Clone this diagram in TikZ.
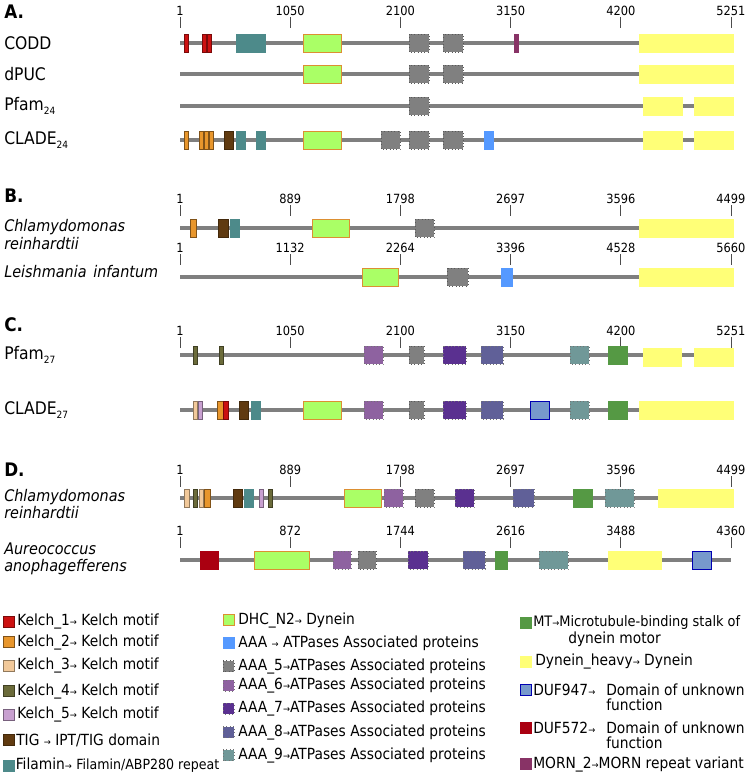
\documentclass[tikz,border=0pt]{standalone}
\usepackage{fontspec}
\setmainfont{DejaVu Sans}[FakeStretch=0.9]

\definecolor{chaingrey}{HTML}{7F7F7F}
\definecolor{cKone}{HTML}{CC1111}
\definecolor{cKtwo}{HTML}{E8962C}
\definecolor{cKthree}{HTML}{F2C99A}
\definecolor{cKfour}{HTML}{6B6B3A}
\definecolor{cKfive}{HTML}{C8A0D0}
\definecolor{cTig}{HTML}{603A10}
\definecolor{cFilamin}{HTML}{4D8A8A}
\definecolor{cDhc}{HTML}{AAFF66}
\definecolor{cAaa}{HTML}{5599FF}
\definecolor{cAfive}{HTML}{808080}
\definecolor{cAsix}{HTML}{8E62A0}
\definecolor{cAseven}{HTML}{5A3090}
\definecolor{cAeight}{HTML}{606098}
\definecolor{cAnine}{HTML}{709898}
\definecolor{cMt}{HTML}{559944}
\definecolor{cHeavy}{HTML}{FFFF77}
\definecolor{cDufA}{HTML}{7799CC}
\definecolor{cDufB}{HTML}{AA0011}
\definecolor{cMorn}{HTML}{883366}

\tikzset{
  chain/.style={draw=chaingrey, line width=2.3pt},
  ticker/.style={draw=black!70, line width=0.6pt},
  numlab/.style={font=\fontsize{9.5}{9.5}\selectfont, inner sep=0pt},
  rowlab/.style={font=\fontsize{13}{13}\selectfont, anchor=west, inner sep=0pt},
  spclab/.style={font=\fontsize{12}{12}\selectfont\itshape, anchor=west, inner sep=0pt},
  panlab/.style={font=\fontsize{14}{14}\selectfont\bfseries, anchor=west, inner sep=0pt},
  leglab/.style={font=\fontsize{11.5}{11.5}\selectfont, anchor=west, inner sep=0pt},
  kone/.style={fill=cKone, draw=cKone!60!black, line width=0.5pt},
  ktwo/.style={fill=cKtwo, draw=cKtwo!55!black, line width=0.5pt},
  kthree/.style={fill=cKthree, draw=cKthree!60!black, line width=0.5pt},
  kfour/.style={fill=cKfour, draw=cKfour!60!black, line width=0.5pt},
  kfive/.style={fill=cKfive, draw=cKfive!60!black, line width=0.5pt},
  tig/.style={fill=cTig, draw=cTig!70!black, line width=0.5pt},
  filamin/.style={fill=cFilamin, draw=cFilamin, line width=0.5pt},
  dhc/.style={fill=cDhc, draw=cKtwo!70!brown, line width=0.6pt},
  aaa/.style={fill=cAaa, draw=cAaa, line width=0.5pt},
  afive/.style={fill=cAfive, draw=black!65, dotted, line width=0.5pt},
  asix/.style={fill=cAsix, draw=black!55, dotted, line width=0.5pt},
  aseven/.style={fill=cAseven, draw=black!55, dotted, line width=0.5pt},
  aeight/.style={fill=cAeight, draw=black!55, dotted, line width=0.5pt},
  anine/.style={fill=cAnine, draw=black!55, dotted, line width=0.5pt},
  mt/.style={fill=cMt, draw=cMt, line width=0.5pt},
  heavy/.style={fill=cHeavy, draw=cHeavy, line width=0.5pt},
  dufA/.style={fill=cDufA, draw=blue!70!black, line width=0.7pt},
  dufB/.style={fill=cDufB, draw=cDufB, line width=0.5pt},
  morn/.style={fill=cMorn, draw=cMorn, line width=0.5pt}
}

% one domain box: style, from x, to x, row y
\newcommand{\dbox}[4]{\filldraw[#1] (#2,#4-9) rectangle (#3,#4+9);}
% legend square: style, left x, centre y
\newcommand{\legsq}[3]{\filldraw[#1] (#2,#3-5.5) rectangle (#2+11,#3+5.5);}
% position ruler: name, y of numbers, labels
\newcommand{\ruler}[3]{%
  \foreach \lab [count=\k from 0] in {#3}{%
    \draw[ticker] (180+\k*110.2,#2+6) -- (180+\k*110.2,#2+17);
    \node[numlab] (#1\k) at (180+\k*110.2,#2) {\lab};
  }}
\newcommand{\arr}{{\fontsize{7}{7}\selectfont →}}
\newcommand{\lowidx}[1]{\raisebox{-3pt}{\fontsize{7.5}{7.5}\selectfont #1}}

\begin{document}
\begin{tikzpicture}[x=0.75pt,y=-0.75pt]
\useasboundingbox (0,0) rectangle (747,776);

% A.
\node[panlab] (pA) at (4,12) {A.};
\ruler{a}{11}{1,1050,2100,3150,4200,5251}
\node[rowlab] (codd) at (4,43) {CODD};
\node[rowlab] (dpuc) at (4,74) {dPUC};
\node[rowlab] (pfamA) at (4,106) {Pfam\lowidx{24}};
\node[rowlab] (cladeA) at (4,140) {CLADE\lowidx{24}};
\foreach \y in {43,74,106,140}
  \draw[chain] (180,\y) -- (731,\y);

\dbox{kone}{184}{188}{43} \dbox{kone}{202}{206}{43} \dbox{kone}{207}{211}{43}
\dbox{filamin}{236}{265}{43} \dbox{dhc}{303}{341}{43}
\dbox{afive}{409}{429}{43} \dbox{afive}{443}{463}{43}
\dbox{morn}{514}{518}{43} \dbox{heavy}{639}{733}{43}

\dbox{dhc}{303}{341}{74} \dbox{afive}{409}{429}{74} \dbox{afive}{443}{463}{74}
\dbox{heavy}{639}{733}{74}

\dbox{afive}{409}{429}{106} \dbox{heavy}{643}{682}{106} \dbox{heavy}{694}{733}{106}

\dbox{ktwo}{184}{188}{140} \dbox{ktwo}{199}{203}{140} \dbox{ktwo}{204}{208}{140}
\dbox{ktwo}{209}{213}{140} \dbox{tig}{224}{233}{140}
\dbox{filamin}{236}{245}{140} \dbox{filamin}{256}{265}{140}
\dbox{dhc}{303}{341}{140} \dbox{afive}{381}{400}{140}
\dbox{afive}{409}{429}{140} \dbox{afive}{443}{463}{140}
\dbox{aaa}{484}{493}{140} \dbox{heavy}{643}{682}{140} \dbox{heavy}{694}{733}{140}

% B.
\node[panlab] (pB) at (4,196) {B.};
\ruler{b}{199}{1,889,1798,2697,3596,4499}
\node[spclab] (chlamyB) at (4,227) {Chlamydomonas};
\node[spclab] (reinB) at (4,244) {reinhardtii};
\draw[chain] (180,228) -- (731,228);
\dbox{ktwo}{190}{196}{228} \dbox{tig}{218}{228}{228} \dbox{filamin}{230}{239}{228}
\dbox{dhc}{312}{349}{228} \dbox{afive}{415}{434}{228} \dbox{heavy}{639}{733}{228}

\ruler{c}{248}{1,1132,2264,3396,4528,5660}
\node[spclab] (leish) at (4,272) {Leishmania\hspace{5pt}infantum};
\draw[chain] (180,277) -- (731,277);
\dbox{dhc}{362}{398}{277} \dbox{afive}{447}{468}{277} \dbox{aaa}{501}{512}{277}
\dbox{heavy}{639}{733}{277}

% C.
\node[panlab] (pC) at (4,325) {C.};
\ruler{d}{331}{1,1050,2100,3150,4200,5251}
\node[rowlab] (pfamC) at (4,355) {Pfam\lowidx{27}};
\node[rowlab] (cladeC) at (4,410) {CLADE\lowidx{27}};
\draw[chain] (180,355) -- (731,355);
\draw[chain] (180,410) -- (731,410);

\dbox{kfour}{193}{197}{355} \dbox{kfour}{219}{223}{355}
\dbox{asix}{364}{383}{355} \dbox{afive}{409}{424}{355} \dbox{aseven}{443}{466}{355}
\dbox{aeight}{481}{503}{355} \dbox{anine}{570}{589}{355} \dbox{mt}{608}{627}{355}
\dbox{heavy}{643}{681}{357} \dbox{heavy}{694}{733}{357}

\dbox{kthree}{193}{197}{410} \dbox{kfive}{198}{202}{410} \dbox{ktwo}{217}{223}{410}
\dbox{kone}{223}{228}{410} \dbox{tig}{239}{248}{410} \dbox{filamin}{251}{260}{410}
\dbox{dhc}{303}{341}{410} \dbox{asix}{364}{383}{410} \dbox{afive}{409}{424}{410}
\dbox{aseven}{443}{466}{410} \dbox{aeight}{481}{503}{410} \dbox{dufA}{530}{549}{410}
\dbox{anine}{570}{589}{410} \dbox{mt}{608}{627}{410} \dbox{heavy}{639}{733}{410}

% D.
\node[panlab] (pD) at (4,470) {D.};
\ruler{e}{470}{1,889,1798,2697,3596,4499}
\node[spclab] (chlamyD) at (4,497) {Chlamydomonas};
\node[spclab] (reinD) at (4,513) {reinhardtii};
\draw[chain] (180,498) -- (731,498);
\dbox{kthree}{184}{189}{498} \dbox{kfour}{193}{197}{498} \dbox{kthree}{199}{203}{498}
\dbox{ktwo}{204}{210}{498} \dbox{tig}{233}{242}{498} \dbox{filamin}{244}{253}{498}
\dbox{kfive}{259}{263}{498} \dbox{kfour}{268}{272}{498}
\dbox{dhc}{344}{381}{498} \dbox{asix}{384}{403}{498} \dbox{afive}{415}{434}{498}
\dbox{aseven}{455}{474}{498} \dbox{aeight}{513}{534}{498} \dbox{mt}{573}{592}{498}
\dbox{anine}{605}{634}{498} \dbox{heavy}{658}{733}{498}

\ruler{f}{531}{1,872,1744,2616,3488,4360}
\node[spclab] (aureo) at (4,549) {Aureococcus};
\node[spclab] (anoph) at (4,567) {anophagefferens};
\draw[chain] (180,560) -- (731,560);
\dbox{dufB}{200}{218}{560} \dbox{dhc}{254}{309}{560} \dbox{asix}{333}{351}{560}
\dbox{afive}{358}{376}{560} \dbox{aseven}{408}{428}{560} \dbox{aeight}{463}{485}{560}
\dbox{mt}{495}{507}{560} \dbox{anine}{539}{568}{560} \dbox{heavy}{608}{661}{560}
\dbox{dufA}{692}{711}{560}

% legend, first column
\legsq{kone}{3}{621.5}
\node[leglab] (lgKone) at (17,621.5) {Kelch\_1\arr\ Kelch motif};
\legsq{ktwo}{3}{642}
\node[leglab] (lgKtwo) at (17,642) {Kelch\_2\arr\ Kelch motif};
\legsq{kthree}{3}{665.5}
\node[leglab] (lgKthree) at (17,665.5) {Kelch\_3\arr\ Kelch motif};
\legsq{kfour}{3}{691}
\node[leglab] (lgKfour) at (17,691) {Kelch\_4\arr\ Kelch motif};
\legsq{kfive}{3}{714.5}
\node[leglab] (lgKfive) at (17,714.5) {Kelch\_5\arr\ Kelch motif};
\legsq{tig}{3}{740}
\node[leglab] (lgTig) at (16,740) {TIG \arr\ IPT/TIG domain};
\legsq{filamin}{3}{765.5}
\node[leglab] (lgFil) at (15.5,765.5) {Filamin\arr\ {\fontsize{10.5}{10.5}\selectfont Filamin/ABP280 repeat}};

% legend, second column
\legsq{dhc}{223}{620}
\node[leglab] (lgDhc) at (238,620) {DHC\_N2\arr\ Dynein};
\legsq{aaa}{223}{643}
\node[leglab] (lgAaa) at (238,643) {AAA \arr\ ATPases Associated proteins};
\legsq{afive}{223}{666}
\node[leglab] (lgAfive) at (238,666) {AAA\_5\arr ATPases Associated proteins};
\legsq{asix}{223}{685.5}
\node[leglab] (lgAsix) at (238,685.5) {AAA\_6\arr ATPases Associated proteins};
\legsq{aseven}{223}{708.5}
\node[leglab] (lgAseven) at (238,708.5) {AAA\_7\arr ATPases Associated proteins};
\legsq{aeight}{223}{732}
\node[leglab] (lgAeight) at (238,732) {AAA\_8\arr ATPases Associated proteins};
\legsq{anine}{223}{755}
\node[leglab] (lgAnine) at (238,755) {AAA\_9\arr ATPases Associated proteins};

% legend, third column
\legsq{mt}{520}{622.5}
\node[leglab, font=\fontsize{10.8}{10.8}\selectfont] (lgMt) at (533,622.5) {MT\arr Microtubule-binding stalk of};
\node[leglab] (lgMtb) at (568,639) {dynein motor};
\legsq{heavy}{520}{661.5}
\node[leglab] (lgHeavy) at (535,661.5) {Dynein\_heavy\arr\ Dynein};
\legsq{dufA}{520}{690}
\node[leglab] (lgDufA) at (533,690) {DUF947\arr};
\node[leglab] (lgDufAa) at (606,690) {Domain of unknown};
\node[leglab] (lgDufAb) at (606,705) {function};
\legsq{dufB}{520}{727.5}
\node[leglab] (lgDufB) at (533,727.5) {DUF572\arr};
\node[leglab] (lgDufBa) at (606,727.5) {Domain of unknown};
\node[leglab] (lgDufBb) at (606,742.5) {function};
\legsq{morn}{520}{764}
\node[leglab] (lgMorn) at (533,764) {MORN\_2\arr MORN repeat variant};
\end{tikzpicture}
\end{document}
